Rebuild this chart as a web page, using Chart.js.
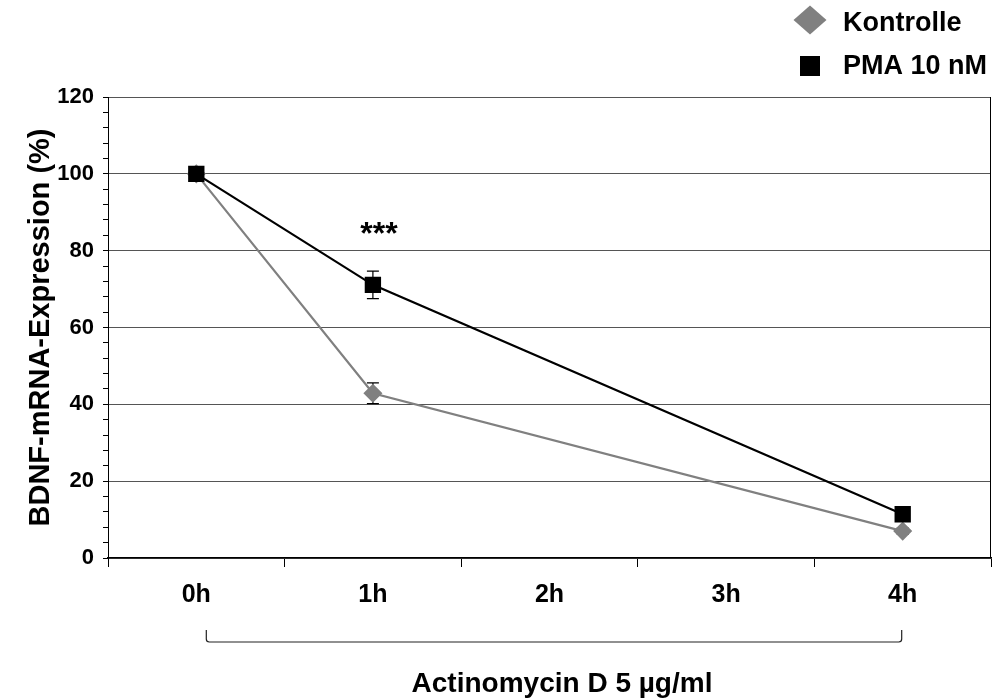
<!DOCTYPE html>
<html><head><meta charset="utf-8">
<script src="https://cdn.jsdelivr.net/npm/chart.js@4/dist/chart.umd.min.js"></script>
<style>html,body{margin:0;padding:0;background:#fff}</style>
</head><body>
<canvas id="c" width="996" height="700"></canvas>
<script>
// ---- data ----
const categories = ['0h', '1h', '2h', '3h', '4h'];
const seriesLabels = ['Kontrolle', 'PMA 10 nM'];
const kontrolle = [100, 42.9, null, null, 7.0];
const kontrolleErr = [0, 2.7, null, null, 0.8];
const pma = [100, 71.1, null, null, 11.4];
const pmaErr = [0, 3.6, null, null, 0.8];
const yMin = 0, yMax = 120, yMajorStep = 20, yMinorStep = 4;
const yTitle = 'BDNF-mRNA-Expression (%)';
const significanceCategory = '1h';
const significanceValue = 84;
const significanceText = '***';
const treatmentLabel = 'Actinomycin D 5 µg/ml';
const bracketFrom = '0h', bracketTo = '4h';

const FONT = "'Liberation Sans', Arial, sans-serif";

const errorBars = {
  id: 'errorBars',
  beforeDatasetsDraw(chart) {
    const {ctx, scales: {x, y}} = chart;
    ctx.save();
    ctx.strokeStyle = '#000';
    ctx.lineWidth = 1.2;
    chart.data.datasets.forEach(ds => {
      ds.errors.forEach((e, j) => {
        const v = ds.data[j];
        if (v == null || !e) return;
        const px = x.getPixelForValue(j);
        const yt = y.getPixelForValue(v + e), yb = y.getPixelForValue(v - e);
        ctx.beginPath();
        ctx.moveTo(px, yt); ctx.lineTo(px, yb);
        ctx.moveTo(px - 6, yt); ctx.lineTo(px + 6, yt);
        ctx.moveTo(px - 6, yb); ctx.lineTo(px + 6, yb);
        ctx.stroke();
      });
    });
    ctx.restore();
  }
};

const decorations = {
  id: 'decorations',
  afterDraw(chart) {
    const {ctx, chartArea: ca, scales: {x, y}} = chart;
    ctx.save();
    // right frame line
    ctx.strokeStyle = '#000';
    ctx.lineWidth = 1;
    ctx.beginPath();
    ctx.moveTo(ca.right - 0.5, ca.top);
    ctx.lineTo(ca.right - 0.5, ca.bottom);
    ctx.stroke();

    // significance stars
    ctx.fillStyle = '#000';
    ctx.font = 'bold 32px ' + FONT;
    ctx.textAlign = 'center';
    ctx.textBaseline = 'middle';
    ctx.fillText(significanceText,
      x.getPixelForValue(categories.indexOf(significanceCategory)) + 6,
      y.getPixelForValue(significanceValue));

    // bracket
    const bx1 = x.getPixelForValue(categories.indexOf(bracketFrom)) + 10;
    const bx2 = x.getPixelForValue(categories.indexOf(bracketTo)) - 1;
    const byTop = 630, byBot = 642, r = 3;
    ctx.lineWidth = 1.2;
    ctx.strokeStyle = '#222';
    ctx.beginPath();
    ctx.moveTo(bx1, byTop);
    ctx.lineTo(bx1, byBot - r);
    ctx.quadraticCurveTo(bx1, byBot, bx1 + r, byBot);
    ctx.lineTo(bx2 - r, byBot);
    ctx.quadraticCurveTo(bx2, byBot, bx2, byBot - r);
    ctx.lineTo(bx2, byTop);
    ctx.stroke();

    // treatment label
    ctx.font = 'bold 28px ' + FONT;
    ctx.textBaseline = 'middle';
    ctx.fillText(treatmentLabel, (bx1 + bx2) / 2 + 8, 684);

    // legend
    ctx.font = 'bold 27px ' + FONT;
    ctx.textAlign = 'left';
    const rows = [20, 66];
    chart.data.datasets.forEach((ds, i) => {
      const cy = rows[i];
      const cx = 810;
      ctx.fillStyle = ds.pointBackgroundColor;
      ctx.beginPath();
      if (ds.pointStyle === 'rectRot') {
        ctx.moveTo(cx - 16.5, cy); ctx.lineTo(cx, cy - 14.5);
        ctx.lineTo(cx + 16.5, cy); ctx.lineTo(cx, cy + 14.5);
        ctx.closePath();
      } else {
        ctx.rect(cx - 10, cy - 10, 20, 20);
      }
      ctx.fill();
      ctx.fillStyle = '#000';
      ctx.fillText(ds.label, 843, cy + (i === 0 ? 4 : 1));
    });
    ctx.restore();
  }
};

new Chart(document.getElementById('c'), {
  type: 'line',
  data: {
    labels: categories,
    datasets: [
      {
        label: seriesLabels[0], data: kontrolle, errors: kontrolleErr, order: 1,
        borderColor: '#808080', backgroundColor: '#808080',
        pointBackgroundColor: '#808080', pointBorderColor: '#808080',
        pointStyle: 'rectRot', pointRadius: 8, pointHoverRadius: 8, borderWidth: 2.2,
        spanGaps: true, tension: 0
      },
      {
        label: seriesLabels[1], data: pma, errors: pmaErr, order: 0,
        borderColor: '#000', backgroundColor: '#000',
        pointBackgroundColor: '#000', pointBorderColor: '#000',
        pointStyle: 'rect', pointRadius: 10, pointHoverRadius: 10, borderWidth: 2.2,
        spanGaps: true, tension: 0
      }
    ]
  },
  options: {
    responsive: false,
    animation: false,
    devicePixelRatio: 1,
    layout: {autoPadding: false, padding: {top: 97, right: 5, left: 0, bottom: 0}},
    plugins: {legend: {display: false}, tooltip: {enabled: false}},
    scales: {
      x: {
        type: 'category',
        offset: true,
        afterFit(s) { s.height = 142; s.paddingLeft = 0; s.paddingRight = 0; },
        grid: {display: true, drawOnChartArea: false, offset: true, tickLength: 9, color: '#000', lineWidth: 1},
        border: {display: true, color: '#000', width: 1.5},
        ticks: {color: '#000', font: {family: FONT, size: 25, weight: 'bold'}, padding: 13, maxRotation: 0}
      },
      y: {
        min: yMin, max: yMax,
        afterFit(s) { s.width = 108; s.paddingTop = 0; s.paddingBottom = 0; },
        grid: {
          color: c => (c.tick && c.tick.value % yMajorStep === 0) ? '#555' : 'rgba(0,0,0,0)',
          tickColor: '#000', tickLength: 5, lineWidth: 1
        },
        border: {display: true, color: '#000', width: 1},
        ticks: {
          stepSize: yMinorStep, autoSkip: false, color: '#000', padding: 9,
          font: {family: FONT, size: 22, weight: 'bold'},
          callback: v => (v % yMajorStep === 0 ? String(v) : '')
        },
        title: {display: true, text: yTitle, color: '#000', font: {family: FONT, size: 29, weight: 'bold'}, padding: {top: 24, bottom: 0}}
      }
    }
  },
  plugins: [errorBars, decorations]
});
</script>
</body></html>
